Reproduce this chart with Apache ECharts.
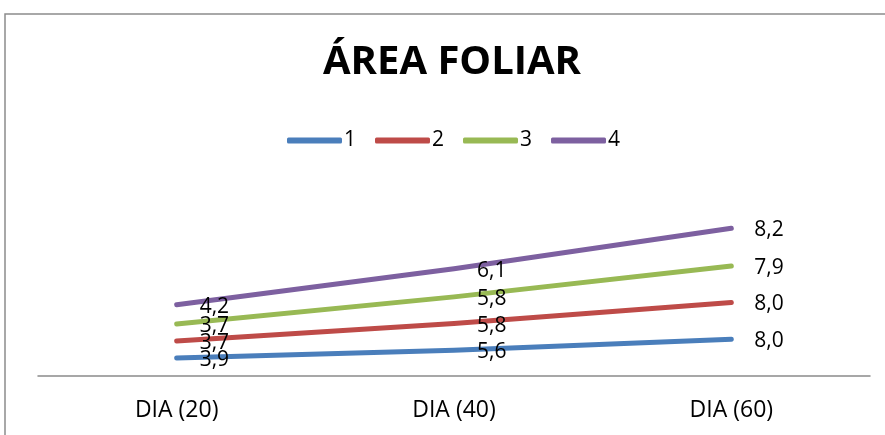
<!DOCTYPE html>
<html>
<head>
<meta charset="utf-8">
<script src="https://cdn.jsdelivr.net/npm/echarts@6/dist/echarts.min.js"></script>
<style>
  html, body { margin: 0; padding: 0; background: #ffffff; }
  #chart { width: 885px; height: 435px; }
</style>
</head>
<body>
<div id="chart"></div>
<script>
// Leaf area per treatment, sampled at three days
const categories = ['DIA (20)', 'DIA (40)', 'DIA (60)'];
const seriesNames = ['1', '2', '3', '4'];
const serie1 = [3.9, 5.6, 8.0];
const serie2 = [3.7, 5.8, 8.0];
const serie3 = [3.7, 5.8, 7.9];
const serie4 = [4.2, 6.1, 8.2];
const colors = ['#4A7EBB', '#BE4B48', '#98B954', '#7D60A0'];

const values = [serie1, serie2, serie3, serie4];
const font = '"Open Sans", "Liberation Sans", sans-serif';

const chart = echarts.init(document.getElementById('chart'), null, { renderer: 'canvas' });

chart.setOption({
  animation: false,
  backgroundColor: '#ffffff',
  color: colors,
  title: {
    text: 'ÁREA FOLIAR',
    left: 318,
    top: 38,
    textStyle: { fontFamily: font, fontSize: 40, fontWeight: 'bold', color: '#000000' }
  },
  legend: {
    left: 282,
    top: 125,
    itemWidth: 55,
    itemHeight: 6,
    itemGap: 19,
    icon: 'roundRect',
    data: seriesNames,
    textStyle: { fontFamily: font, fontSize: 21, color: '#000000', padding: [0, 0, 0, -3] }
  },
  grid: { left: 38, right: 15, top: 192, bottom: 59 },
  xAxis: {
    type: 'category',
    data: categories,
    boundaryGap: true,
    axisLine: { lineStyle: { color: '#8a8a8a', width: 1.5 } },
    axisTick: { show: false },
    axisLabel: { fontFamily: font, fontSize: 23, color: '#000000', margin: 23 }
  },
  yAxis: {
    type: 'value',
    min: 0,
    max: 40,
    show: false,
    splitLine: { show: false }
  },
  graphic: [{
    type: 'rect',
    shape: { x: 5, y: 14, width: 1000, height: 600 },
    style: { fill: 'none', stroke: '#8c8c8c', lineWidth: 1.5 },
    silent: true,
    z: 100
  }],
  series: seriesNames.map((name, i) => ({
    name: name,
    type: 'line',
    stack: 'total',
    data: values[i],
    symbol: 'circle',
    symbolSize: 2,
    showSymbol: true,
    lineStyle: { width: 5, cap: 'round', join: 'round', color: colors[i] },
    itemStyle: { color: colors[i] },
    label: {
      show: true,
      position: 'right',
      distance: 22,
      offset: [0, 2],
      fontFamily: font,
      fontSize: 21,
      color: '#000000',
      formatter: p => p.value.toFixed(1).replace('.', ',')
    }
  }))
});
</script>
</body>
</html>
